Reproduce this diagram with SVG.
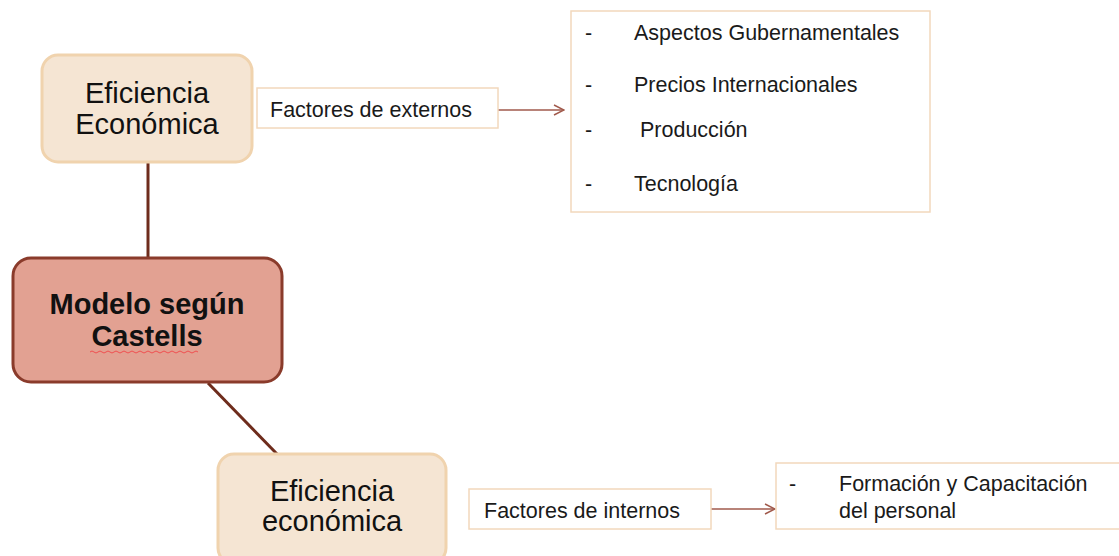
<svg xmlns="http://www.w3.org/2000/svg" width="1119" height="556" viewBox="0 0 1119 556">
<defs>
<style>
.node{fill:#F5E5D3;stroke:#F0D3AE;stroke-width:3}
.main{fill:#E2A192;stroke:#8A3B2B;stroke-width:3}
.box{fill:#FFFFFF;stroke:#F2D8BC;stroke-width:1.5}
.nt{font-family:"Liberation Sans",Arial,sans-serif;font-size:29px;fill:#111;text-anchor:middle}
.mt{font-family:"Liberation Sans",Arial,sans-serif;font-size:29px;font-weight:bold;fill:#111;text-anchor:middle}
.t{font-family:"Liberation Sans",Arial,sans-serif;font-size:21.5px;fill:#1a1a1a}
.link{stroke:#6E2C1C;stroke-width:3;fill:none}
.arr{stroke:#A15A4C;stroke-width:1.5;fill:none}
</style>
<marker id="ah" viewBox="0 0 12 12" refX="11" refY="6" markerWidth="12" markerHeight="12" markerUnits="userSpaceOnUse" orient="auto">
<path d="M1,1 L11,6 L1,11" fill="none" stroke="#A15A4C" stroke-width="1.5"/>
</marker>
</defs>
<rect width="1119" height="556" fill="#FFFFFF"/>
<g id="connectors">
<line class="link" x1="148" y1="162" x2="148" y2="259"/>
<line class="link" x1="208" y1="383" x2="278" y2="455"/>
<line class="arr" x1="498" y1="110" x2="564" y2="110" marker-end="url(#ah)"/>
<line class="arr" x1="711" y1="509" x2="775" y2="509" marker-end="url(#ah)"/>
</g>
<g id="eficiencia-top">
<rect class="node" x="42" y="55" width="210" height="107" rx="16"/>
<text class="nt" x="147" y="103">Eficiencia</text>
<text class="nt" x="147" y="134">Económica</text>
</g>
<g id="modelo">
<rect class="main" x="13" y="258" width="269" height="124" rx="18"/>
<text class="mt" x="147" y="314">Modelo según</text>
<text class="mt" x="147" y="346">Castells</text>
<path d="M90,352 q2,-2 4,0 t4,0 t4,0 t4,0 t4,0 t4,0 t4,0 t4,0 t4,0 t4,0 t4,0 t4,0 t4,0 t4,0 t4,0 t4,0 t4,0 t4,0 t4,0 t4,0 t4,0 t4,0 t4,0 t4,0 t4,0 t4,0 t4,0" fill="none" stroke="#F05050" stroke-width="1"/>
</g>
<g id="eficiencia-bottom">
<rect class="node" x="218" y="454" width="228" height="110" rx="16"/>
<text class="nt" x="332" y="501">Eficiencia</text>
<text class="nt" x="332" y="531">económica</text>
</g>
<g id="factores-externos">
<rect class="box" x="257" y="88" width="241" height="40"/>
<text class="t" x="270" y="117">Factores de externos</text>
</g>
<g id="lista-externos">
<rect class="box" x="571" y="11" width="359" height="201"/>
<text class="t" x="585" y="40">-</text>
<text class="t" x="634" y="40">Aspectos Gubernamentales</text>
<text class="t" x="585" y="92">-</text>
<text class="t" x="634" y="92">Precios Internacionales</text>
<text class="t" x="585" y="137">-</text>
<text class="t" x="640" y="137">Producción</text>
<text class="t" x="585" y="191">-</text>
<text class="t" x="634" y="191">Tecnología</text>
</g>
<g id="factores-internos">
<rect class="box" x="469" y="489" width="242" height="40"/>
<text class="t" x="484" y="518">Factores de internos</text>
</g>
<g id="lista-internos">
<rect class="box" x="776" y="463" width="350" height="66"/>
<text class="t" x="789" y="491">-</text>
<text class="t" x="839" y="491">Formación y Capacitación</text>
<text class="t" x="839" y="518">del personal</text>
</g>
</svg>
